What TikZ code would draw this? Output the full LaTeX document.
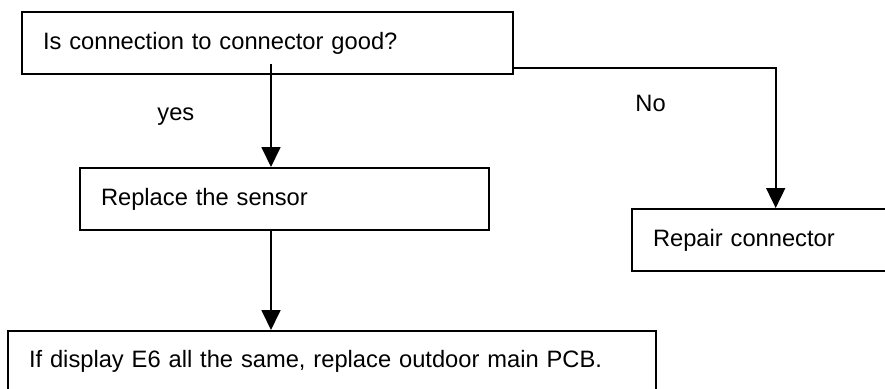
\documentclass[tikz,border=0pt]{standalone}
\usepackage{fontspec}
\setmainfont{Liberation Sans}
\usetikzlibrary{arrows.meta}

\tikzset{
  every node/.style={font=\fontsize{11.85pt}{14pt}\selectfont},
  box/.style={draw, line width=1pt, anchor=north west, inner xsep=10.5pt, inner ysep=0pt, minimum height=31pt, align=left},
  arr/.style={line width=0.9pt, -{Triangle[width=9.5pt,length=10pt]}}
}

\begin{document}
\begin{tikzpicture}[x=0.5pt, y=-0.5pt]
\useasboundingbox (0,0) rectangle (885,388);

\node[box, text width=224.5pt] (good) at (21,11) {Is connection to connector good?};
\node[box, text width=183.5pt] (sensor) at (79,167) {Replace the sensor};
\node[box, text width=106pt] (repair) at (631,208) {Repair connector};
\node[box, text width=303pt, minimum height=30pt] (pcb) at (7,330) {If display E6 all the same, replace outdoor main PCB.};

\node[anchor=base west, inner sep=0pt] (yes) at (157,120) {yes};
\node[anchor=base west, inner sep=0pt] (no) at (635,111.7) {No};

\coordinate (ysplit) at (271,64);
\coordinate (nsplit) at (775.7,67.7);
\coordinate (down) at (271,230);

\draw[arr] (ysplit) -- (ysplit |- sensor.north);
\draw[arr] (good.east |- nsplit) -- (nsplit) -- (nsplit |- repair.north);
\draw[arr] (down) -- (down |- pcb.north);
\end{tikzpicture}
\end{document}
